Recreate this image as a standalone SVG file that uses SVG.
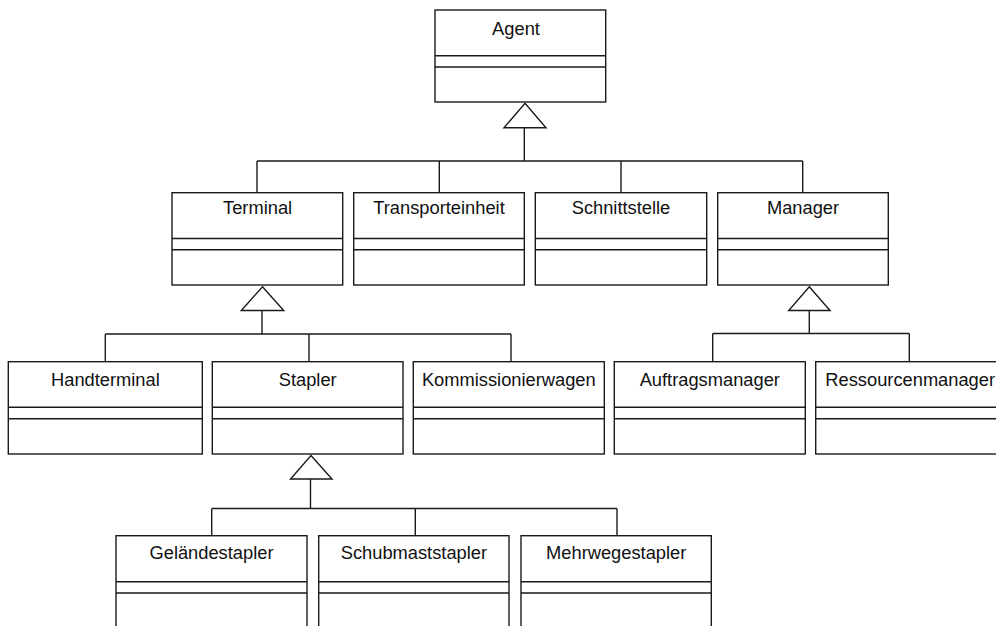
<svg xmlns="http://www.w3.org/2000/svg" width="996" height="626" viewBox="0 0 996 626">
  <style>
    .box { fill: #ffffff; stroke: #1a1a1a; stroke-width: 1.4; }
    .sep { stroke: #1a1a1a; stroke-width: 1.4; }
    .wire { fill: none; stroke: #1a1a1a; stroke-width: 1.4; }
    .gen { fill: #ffffff; stroke: #1a1a1a; stroke-width: 1.4; stroke-linejoin: miter; }
    .name { font-family: "Liberation Sans", Arial, Helvetica, sans-serif; font-size: 18.3px; fill: #111111; text-anchor: middle; }
  </style>
  <rect x="0" y="0" width="996" height="626" fill="#ffffff"/>

  <!-- generalization connectors -->
  <g id="connectors">
    <!-- Agent -> second tier -->
    <path class="wire" d="M524.3 127.7 V161 M257 161 H802.7 M257 161 V192.7 M439.3 161 V192.7 M621 161 V192.7 M802.7 161 V192.7"/>
    <polygon class="gen" points="525,103.3 546,127.7 504,127.7"/>
    <!-- Terminal -> devices -->
    <path class="wire" d="M262 310.5 V334 M105.3 334 H511 M105.3 334 V361.7 M309 334 V361.7 M511 334 V361.7"/>
    <polygon class="gen" points="262.5,286.7 283.7,310.5 241.3,310.5"/>
    <!-- Manager -> managers -->
    <path class="wire" d="M809.3 310.5 V333.5 M712.7 333.5 H909.3 M712.7 333.5 V361.7 M909.3 333.5 V361.7"/>
    <polygon class="gen" points="809.3,286.7 830,310.5 788.7,310.5"/>
    <!-- Stapler -> forklift types -->
    <path class="wire" d="M310.5 479 V508.5 M211.7 508.5 H617 M211.7 508.5 V535.7 M415.3 508.5 V535.7 M617 508.5 V535.7"/>
    <polygon class="gen" points="311,455.5 332,479 290.5,479"/>
  </g>

  <!-- tier 1 -->
  <g id="agent">
    <rect class="box" x="435" y="10" width="170.7" height="92"/>
    <line class="sep" x1="435" y1="55.7" x2="605.7" y2="55.7"/>
    <line class="sep" x1="435" y1="67" x2="605.7" y2="67"/>
    <text class="name" x="516" y="35">Agent</text>
  </g>

  <!-- tier 2 -->
  <g id="terminal">
    <rect class="box" x="172" y="192.7" width="170.7" height="92.3"/>
    <line class="sep" x1="172" y1="238.5" x2="342.7" y2="238.5"/>
    <line class="sep" x1="172" y1="249.7" x2="342.7" y2="249.7"/>
    <text class="name" x="257.6" y="214.3">Terminal</text>
  </g>
  <g id="transporteinheit">
    <rect class="box" x="353.7" y="192.7" width="170.6" height="92.3"/>
    <line class="sep" x1="353.7" y1="238.5" x2="524.3" y2="238.5"/>
    <line class="sep" x1="353.7" y1="249.7" x2="524.3" y2="249.7"/>
    <text class="name" x="439" y="214.3">Transporteinheit</text>
  </g>
  <g id="schnittstelle">
    <rect class="box" x="535.3" y="192.7" width="171.4" height="92.3"/>
    <line class="sep" x1="535.3" y1="238.5" x2="706.7" y2="238.5"/>
    <line class="sep" x1="535.3" y1="249.7" x2="706.7" y2="249.7"/>
    <text class="name" x="621" y="214.3">Schnittstelle</text>
  </g>
  <g id="manager">
    <rect class="box" x="717.7" y="192.7" width="170.6" height="92.3"/>
    <line class="sep" x1="717.7" y1="238.5" x2="888.3" y2="238.5"/>
    <line class="sep" x1="717.7" y1="249.7" x2="888.3" y2="249.7"/>
    <text class="name" x="803" y="214.3">Manager</text>
  </g>

  <!-- tier 3 -->
  <g id="handterminal">
    <rect class="box" x="8.3" y="361.7" width="194" height="92.3"/>
    <line class="sep" x1="8.3" y1="407.3" x2="202.3" y2="407.3"/>
    <line class="sep" x1="8.3" y1="418.7" x2="202.3" y2="418.7"/>
    <text class="name" x="105.4" y="385.7">Handterminal</text>
  </g>
  <g id="stapler">
    <rect class="box" x="212.3" y="361.7" width="190.7" height="92.3"/>
    <line class="sep" x1="212.3" y1="407.3" x2="403" y2="407.3"/>
    <line class="sep" x1="212.3" y1="418.7" x2="403" y2="418.7"/>
    <text class="name" x="307.7" y="385.7">Stapler</text>
  </g>
  <g id="kommissionierwagen">
    <rect class="box" x="413.3" y="361.7" width="191" height="92.3"/>
    <line class="sep" x1="413.3" y1="407.3" x2="604.3" y2="407.3"/>
    <line class="sep" x1="413.3" y1="418.7" x2="604.3" y2="418.7"/>
    <text class="name" x="508.8" y="385.7">Kommissionierwagen</text>
  </g>
  <g id="auftragsmanager">
    <rect class="box" x="614.3" y="361.7" width="191" height="92.3"/>
    <line class="sep" x1="614.3" y1="407.3" x2="805.3" y2="407.3"/>
    <line class="sep" x1="614.3" y1="418.7" x2="805.3" y2="418.7"/>
    <text class="name" x="709.8" y="385.7">Auftragsmanager</text>
  </g>
  <g id="ressourcenmanager">
    <rect class="box" x="815.7" y="361.7" width="191" height="92.3"/>
    <line class="sep" x1="815.7" y1="407.3" x2="1006.7" y2="407.3"/>
    <line class="sep" x1="815.7" y1="418.7" x2="1006.7" y2="418.7"/>
    <text class="name" x="910.2" y="385.7">Ressourcenmanager</text>
  </g>

  <!-- tier 4 -->
  <g id="gelaendestapler">
    <rect class="box" x="116" y="535.7" width="191" height="120"/>
    <line class="sep" x1="116" y1="581.7" x2="307" y2="581.7"/>
    <line class="sep" x1="116" y1="593" x2="307" y2="593"/>
    <text class="name" x="211.5" y="559.3">Geländestapler</text>
  </g>
  <g id="schubmaststapler">
    <rect class="box" x="318.7" y="535.7" width="190.3" height="120"/>
    <line class="sep" x1="318.7" y1="581.7" x2="509" y2="581.7"/>
    <line class="sep" x1="318.7" y1="593" x2="509" y2="593"/>
    <text class="name" x="413.9" y="559.3">Schubmaststapler</text>
  </g>
  <g id="mehrwegestapler">
    <rect class="box" x="521" y="535.7" width="190.3" height="120"/>
    <line class="sep" x1="521" y1="581.7" x2="711.3" y2="581.7"/>
    <line class="sep" x1="521" y1="593" x2="711.3" y2="593"/>
    <text class="name" x="616.2" y="559.3">Mehrwegestapler</text>
  </g>
</svg>
